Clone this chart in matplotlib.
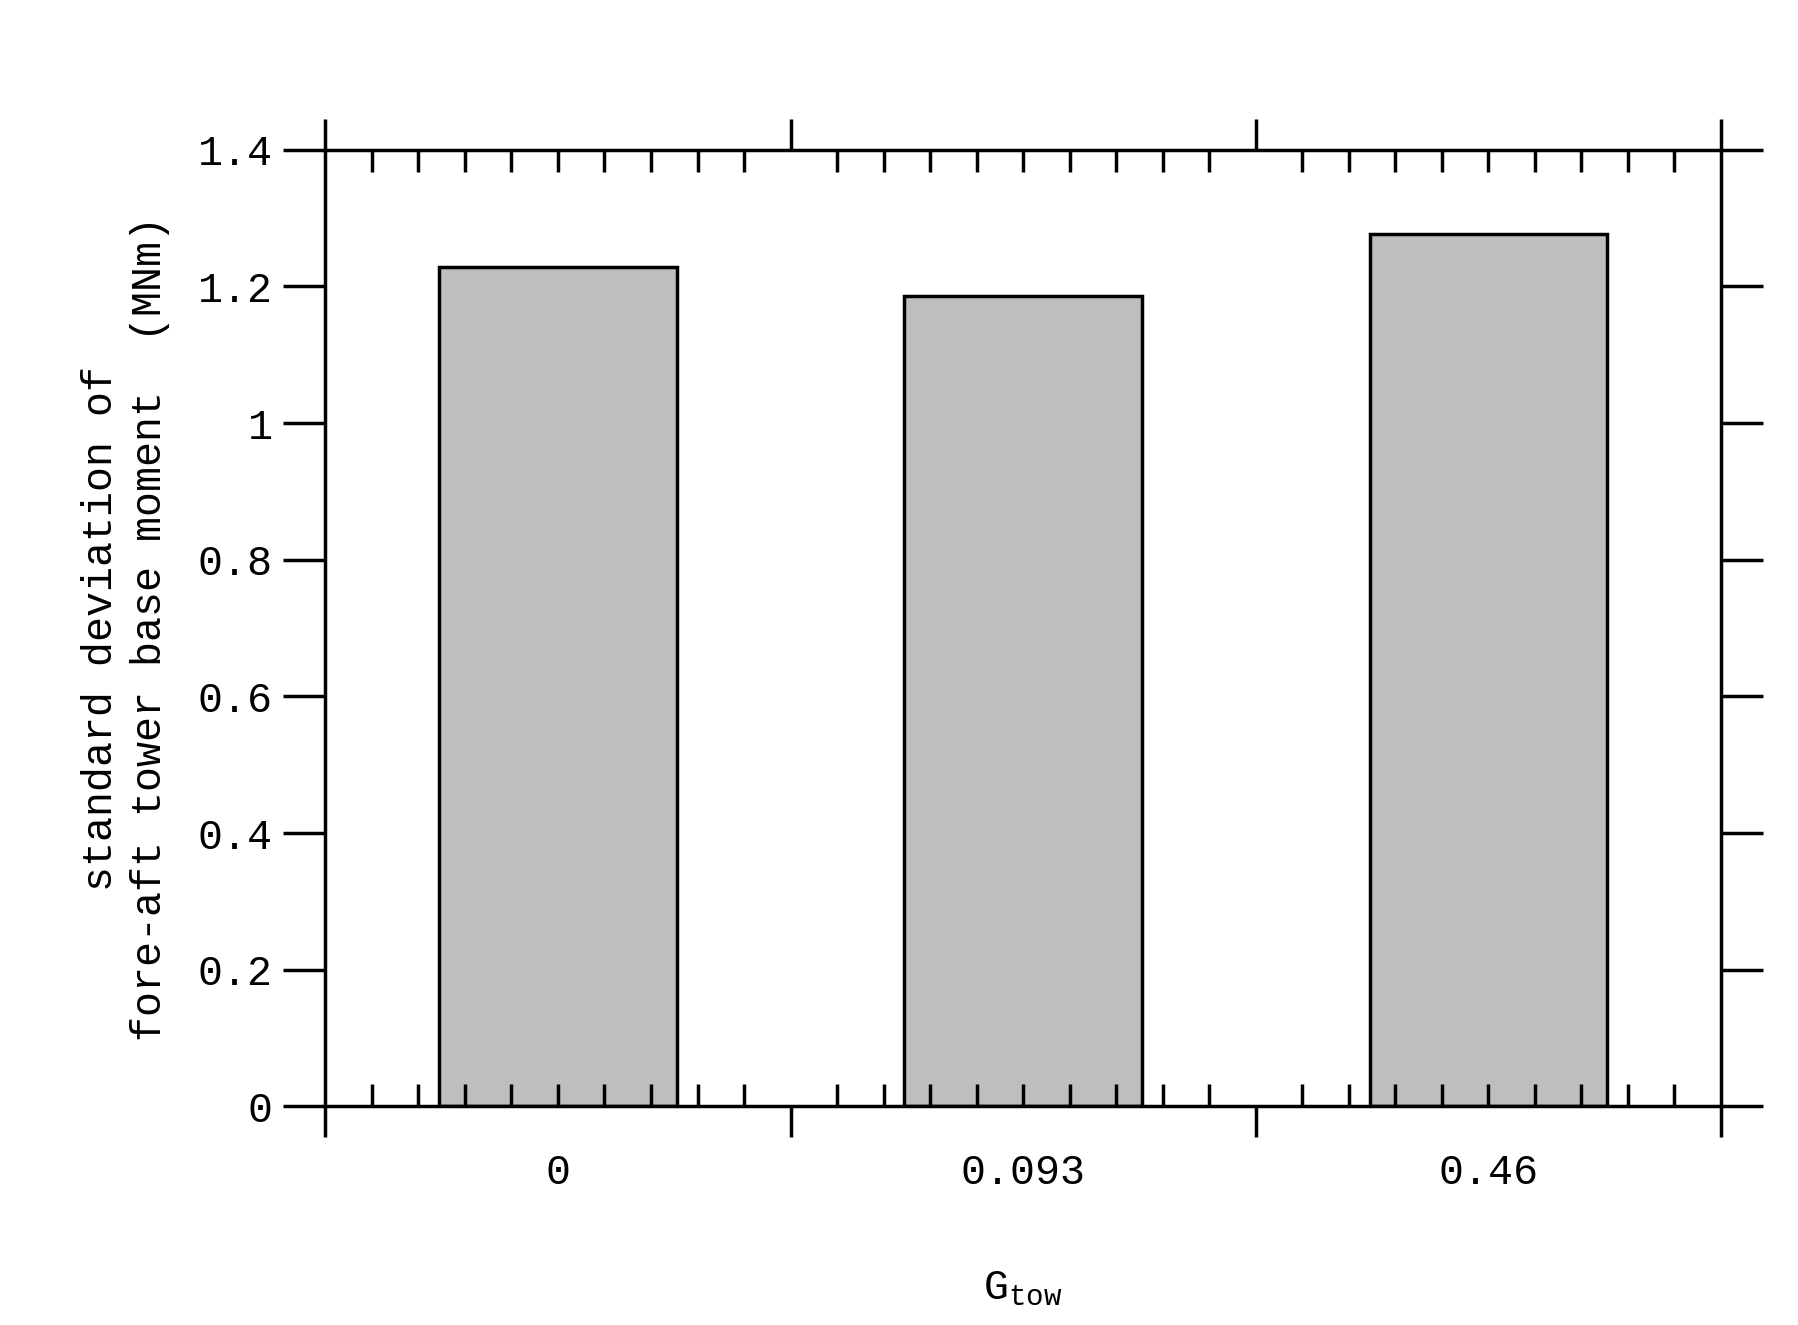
import matplotlib.pyplot as plt
from matplotlib.ticker import MultipleLocator
import matplotlib.transforms as mtransforms

categories = ["0", "0.093", "0.46"]
std_moment = [1.228, 1.186, 1.277]
y_ticks = [0, 0.2, 0.4, 0.6, 0.8, 1.0, 1.2, 1.4]
y_labels = ["0", "0.2", "0.4", "0.6", "0.8", "1", "1.2", "1.4"]

plt.rcParams["font.family"] = ["Liberation Mono", "DejaVu Sans Mono"]
fs = 30

fig = plt.figure(figsize=(17.98, 13.25), dpi=100)
ax = fig.add_axes([0.181, 0.165, 0.776, 0.722])

pos = [i + 0.5 for i in range(len(categories))]
ax.bar(pos, std_moment, width=0.51, color="#bebebe", edgecolor="black", linewidth=2.5)

ax.set_xlim(0, 3)
ax.set_ylim(0, 1.4)
ax.set_xticks([0, 1, 2, 3])
ax.set_xticklabels([])
ax.xaxis.set_minor_locator(MultipleLocator(0.1))
ax.set_yticks(y_ticks)
ax.set_yticklabels(y_labels, fontsize=fs)

ax.tick_params(axis="x", which="major", direction="out", length=22, width=2.5,
               top=True, bottom=True)
ax.tick_params(axis="x", which="minor", direction="in", length=16, width=2.5,
               top=True, bottom=True)
ax.tick_params(axis="y", which="major", direction="out", length=30, width=2.5,
               left=True, right=True, pad=8)
for s in ax.spines.values():
    s.set_linewidth(2.5)

trans = mtransforms.blended_transform_factory(ax.transData, ax.transAxes)
for p, lab in zip(pos, categories):
    ax.text(p, -0.07, lab, transform=trans, ha="center", va="center", fontsize=fs)

ax.text(0.5, -0.19, r"G$_{\mathregular{tow}}$", transform=ax.transAxes,
        ha="center", va="center", fontsize=fs)
ax.set_ylabel("standard deviation of\nfore-aft tower base moment  (MNm)",
              fontsize=fs, labelpad=20, linespacing=1.3)

fig.savefig("out.png", dpi=100)
